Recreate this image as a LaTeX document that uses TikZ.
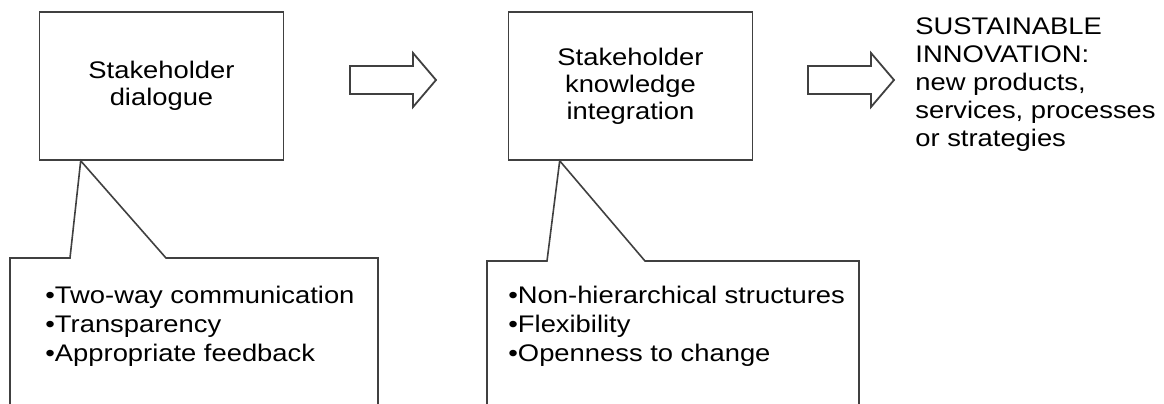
\documentclass[tikz,border=0pt]{standalone}
\usepackage{fontspec}
\setmainfont{Liberation Sans}[FakeStretch=1.14]
\usepackage{tikz}
\usetikzlibrary{calc,positioning}

\tikzset{
    stagebox/.style={draw=black!75, line width=0.8pt, minimum width=122pt, minimum height=74pt, align=center, font=\fontsize{12}{13.5}\selectfont},
    listtext/.style={anchor=north west, inner sep=0pt, align=left, font=\fontsize{12}{14.5}\selectfont},
    outcome/.style={anchor=north west, inner sep=0pt, align=left, font=\fontsize{12}{14}\selectfont},
    calloutline/.style={draw=black!75, line width=0.8pt, line join=miter},
    blockarrow/.style={draw=black!75, line width=0.9pt, line join=miter}
}

\begin{document}
\begin{tikzpicture}[x=0.5pt,y=-0.5pt]
        \useasboundingbox (0,0) rectangle (1164,403);
        \node[stagebox] (dialogue) at (161.5,86) {Stakeholder\\dialogue};
        \node[stagebox] (integration) at (630.5,86) {Stakeholder\\knowledge\\integration};
        \node[outcome] (innovation) at (915,17) {SUSTAINABLE\\INNOVATION:\\new products,\\services, processes\\or strategies};
        \foreach \x in {350,808}
            \draw[blockarrow] (\x,66) -- (\x+63,66) -- (\x+63,53) -- (\x+86,80) -- (\x+63,107) -- (\x+63,94) -- (\x,94) -- cycle;
        \node[listtext] (dialoguelist) at (45,286) {•Two-way communication\\•Transparency\\•Appropriate feedback};
        \node[listtext] (integrationlist) at (508,286) {•Non-hierarchical structures\\•Flexibility\\•Openness to change};
        \draw[calloutline] (10,410) -- (10,258) -- (70,258) -- ($(dialogue.south west)+(42,0)$) -- (166,258) -- (378,258) -- (378,410);
        \draw[calloutline] (487,410) -- (487,261) -- (547,261) -- ($(integration.south west)+(52,0)$) -- (645,261) -- (859,261) -- (859,410);
    \end{tikzpicture}
\end{document}
